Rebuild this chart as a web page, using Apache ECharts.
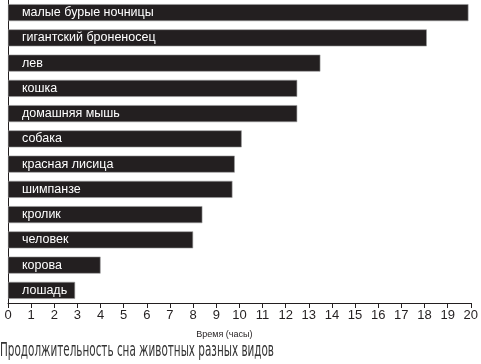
<!DOCTYPE html>
<html><head><meta charset="utf-8">
<script src="https://cdn.jsdelivr.net/npm/echarts@6/dist/echarts.min.js"></script>
<style>html,body{margin:0;padding:0;background:#fff}#c{width:481px;height:364px}</style>
</head><body><div id="c"></div>
<script>
const categories = ["малые бурые ночницы","гигантский броненосец","лев","кошка","домашняя мышь","собака","красная лисица","шимпанзе","кролик","человек","корова","лошадь"];
const hours = [19.9, 18.1, 13.5, 12.5, 12.5, 10.1, 9.8, 9.7, 8.4, 8.0, 4.0, 2.9];
const xTicks = {min: 0, max: 20, interval: 1};
const axisTitle = "Время (часы)";
const caption = "Продолжительность сна животных разных видов";

const capFont = '20px "DejaVu Sans"';
const cv = document.createElement('canvas').getContext('2d');
cv.font = capFont;
const capScale = 274 / cv.measureText(caption).width;

const chart = echarts.init(document.getElementById('c'), null, {renderer: 'canvas'});
chart.setOption({
  animation: false,
  grid: {left: 8, right: 8, top: -3.5, bottom: 61, containLabel: false},
  xAxis: {
    type: 'value', min: xTicks.min, max: xTicks.max, interval: xTicks.interval,
    splitLine: {show: false},
    axisLine: {show: true, lineStyle: {color: '#231f20', width: 1}},
    axisTick: {show: true, length: 5, lineStyle: {color: '#231f20'}},
    axisLabel: {color: '#231f20', fontSize: 13, fontFamily: 'Liberation Sans, Arial, sans-serif', margin: 6},
    name: axisTitle, nameLocation: 'middle', nameGap: 27,
    nameTextStyle: {color: '#231f20', fontSize: 9, fontFamily: 'Liberation Sans, Arial, sans-serif', padding: [0, 30, 0, 0]}
  },
  yAxis: {
    type: 'category', data: categories, inverse: true,
    axisLine: {show: true, lineStyle: {color: '#231f20', width: 1}},
    axisTick: {show: false}, axisLabel: {show: false}
  },
  series: [{
    type: 'bar', data: hours, barWidth: 17,
    itemStyle: {color: '#231f20', borderColor: '#9a9a9a', borderWidth: 0.6},
    label: {show: true, position: 'insideLeft', distance: 14,
      formatter: p => categories[p.dataIndex],
      color: '#ffffff', fontSize: 12.5, fontFamily: 'Liberation Sans, Arial, sans-serif'}
  }],
  graphic: [{
    type: 'text', x: 0, y: 341, scaleX: capScale,
    style: {text: caption, fill: '#333333', font: capFont}
  }]
});
</script></body></html>
